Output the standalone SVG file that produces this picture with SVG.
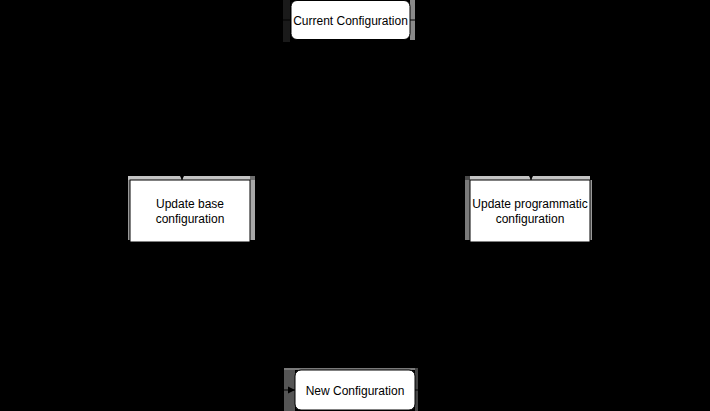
<svg xmlns="http://www.w3.org/2000/svg" width="710" height="411" viewBox="0 0 710 411">
<style>
.node{fill:#fff;stroke:#000;stroke-width:1}
.lbl{font-family:"Liberation Sans",Arial,sans-serif;font-size:12px;fill:#000;text-anchor:middle}
.edge{fill:none;stroke:#000;stroke-width:1}
</style>
<defs>
<marker id="arr" markerWidth="8" markerHeight="8" refX="7" refY="4" orient="auto" markerUnits="userSpaceOnUse">
<path d="M0,0.5 L7,4 L0,7.5 Z" fill="#000"/>
</marker>
</defs>
<rect x="0" y="0" width="710" height="411" fill="#000"/>
<g id="artifacts">
<rect x="283" y="0" width="7" height="42" fill="#1a1a1a"/>
<rect x="410" y="0" width="5" height="40" fill="#8a8a8a"/>
<rect x="128" y="176" width="122" height="4" fill="#c4c4c4"/>
<rect x="250" y="176" width="5" height="64" fill="#a8a8a8"/>
<rect x="250" y="176" width="5" height="4" fill="#707070"/>
<rect x="128" y="180" width="2" height="60" fill="#9a9a9a"/>
<rect x="465" y="176" width="125" height="4" fill="#c4c4c4"/>
<rect x="465" y="176" width="5" height="64" fill="#7a7a7a"/>
<rect x="465" y="176" width="5" height="4" fill="#4a4a4a"/>
<rect x="590" y="180" width="2" height="60" fill="#9a9a9a"/>
<rect x="284" y="368" width="11" height="43" fill="#555"/>
<rect x="284" y="368" width="131" height="2" fill="#7a7a7a"/>
<rect x="415" y="368" width="3" height="43" fill="#444"/>
</g>
<g id="connectors">
<path class="edge" d="M291,20 H182 V180" marker-end="url(#arr)"/>
<path class="edge" d="M410,20 H531 V180" marker-end="url(#arr)"/>
<path class="edge" d="M190,240 V390 H295" marker-end="url(#arr)"/>
<path class="edge" d="M530,240 V390 H415"/>
</g>
<g id="current">
<rect class="node" x="291" y="0.5" width="119" height="39" rx="6"/>
<text class="lbl" x="350.5" y="24.5">Current Configuration</text>
</g>
<g id="base">
<rect class="node" x="130" y="180" width="120" height="62"/>
<text class="lbl" x="190" y="208">Update base</text>
<text class="lbl" x="190" y="223">configuration</text>
</g>
<g id="programmatic">
<rect class="node" x="470" y="180" width="120" height="62"/>
<text class="lbl" x="530" y="208">Update programmatic</text>
<text class="lbl" x="530" y="223">configuration</text>
</g>
<g id="new">
<rect class="node" x="295" y="370" width="120" height="40" rx="6"/>
<text class="lbl" x="355" y="395">New Configuration</text>
</g>
</svg>
